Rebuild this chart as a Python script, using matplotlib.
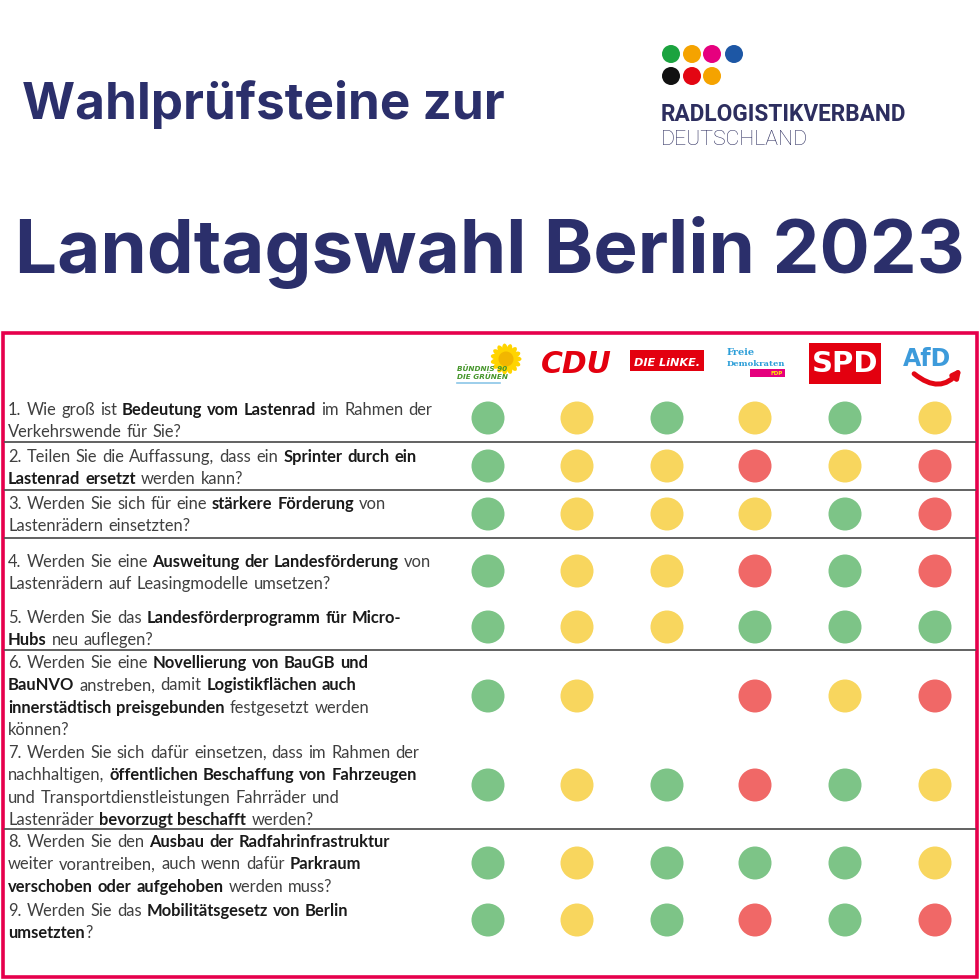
import numpy as np
import matplotlib.pyplot as plt
from matplotlib.patches import Circle, Rectangle, Ellipse, FancyArrowPatch

# Fragen (mit **fett** markierten Teilen)
questions = [
    ["1. Wie groß ist **Bedeutung vom Lastenrad** im Rahmen der",
     "Verkehrswende für Sie?"],
    ["2. Teilen Sie die Auffassung, dass ein **Sprinter durch ein**",
     "**Lastenrad ersetzt** werden kann?"],
    ["3. Werden Sie sich für eine **stärkere Förderung** von",
     "Lastenrädern einsetzten?"],
    ["4. Werden Sie eine **Ausweitung der Landesförderung** von",
     "Lastenrädern auf Leasingmodelle umsetzen?"],
    ["5. Werden Sie das **Landesförderprogramm für Micro-**",
     "**Hubs** neu auflegen?"],
    ["6. Werden Sie eine **Novellierung von BauGB und**",
     "**BauNVO** anstreben, damit **Logistikflächen auch**",
     "**innerstädtisch preisgebunden** festgesetzt werden",
     "können?"],
    ["7. Werden Sie sich dafür einsetzen, dass im Rahmen der",
     "nachhaltigen, **öffentlichen Beschaffung von Fahrzeugen**",
     "und Transportdienstleistungen Fahrräder und",
     "Lastenräder **bevorzugt beschafft** werden?"],
    ["8. Werden Sie den **Ausbau der Radfahrinfrastruktur**",
     "weiter vorantreiben, auch wenn dafür **Parkraum**",
     "**verschoben oder aufgehoben** werden muss?"],
    ["9. Werden Sie das **Mobilitätsgesetz von Berlin**",
     "**umsetzten**?"],
]

parties = ["GRÜNE", "CDU", "LINKE", "FDP", "SPD", "AfD"]

# G = ja (grün), Y = teilweise (gelb), R = nein (rot), - = keine Antwort
ratings = ["GYGYGY", "GYYRYR", "GYYYGR", "GYYRGR", "GYYGGG",
           "GY-RYR", "GYGRGY", "GYGGGY", "GYGRGR"]

colors = {"G": "#7DC487", "Y": "#F8D65E", "R": "#F06867"}

# layout (pixel)
col_x = [488, 577, 667, 755, 845, 935]
row_y = [418, 466, 514, 571, 627, 696, 785, 863, 920]
text_y = [410, 457, 504, 562, 618, 663, 753, 842, 911]
rule_y = [442, 490, 538, 650, 829]
line_h = 22.3

navy = "#2B2F6B"
crimson = "#E6004C"

fig = plt.figure(figsize=(9.8, 9.8), dpi=100)
ax = fig.add_axes([0, 0, 1, 1])
ax.set_xlim(0, 980)
ax.set_ylim(980, 0)
ax.axis("off")
r = fig.canvas.get_renderer()


def text_w(t):
    return t.get_window_extent(r).width


def fit_text(x, y, s, width, size, **kw):
    # Schriftgröße so setzen, dass der Text die Zielbreite hat
    t = ax.text(x, y, s, fontsize=size, **kw)
    t.set_fontsize(size * width / text_w(t))
    return t


# Titel
fit_text(22, 119, "Wahlprüfsteine zur", 482, 37, fontweight="bold",
         family="Inter", color=navy, va="baseline")
fit_text(15, 273, "Landtagswahl Berlin 2023", 950, 55, fontweight="bold",
         family="Inter", color=navy, va="baseline")

# Verbandslogo
logo_dots = [("#1BA33F", 671, 54), ("#F5A300", 692, 54), ("#E6007E", 712, 54),
             ("#1D57A5", 734, 54), ("#111111", 671, 76), ("#E30613", 692, 76),
             ("#F5A300", 712, 76)]
for c, x, y in logo_dots:
    ax.add_patch(Circle((x, y), 9, color=c, lw=0))
fit_text(661, 121, "RADLOGISTIKVERBAND", 246, 16, fontweight="bold",
         family="Roboto", color="#2D2E5F", va="baseline")
fit_text(661, 145, "DEUTSCHLAND", 147, 15, fontweight="light",
         family="Roboto", color="#2D2E5F", va="baseline")

# Rahmen
ax.add_patch(Rectangle((3, 333), 974, 644, fill=False, ec=crimson, lw=2.6))

# Parteilogos
# Grüne
for a in np.arange(0, 360, 24):
    ax.add_patch(Ellipse((506 + 10 * np.cos(np.radians(a)), 359 + 10 * np.sin(np.radians(a))),
                         11, 5.5, angle=a, color="#FFD400", lw=0))
ax.add_patch(Circle((506, 359), 7.5, color="#F2B600", lw=0))
ax.text(457, 371, "BÜNDNIS 90", fontsize=5.2, fontweight="bold", style="italic",
        color="#46962B", va="baseline")
ax.text(457, 379, "DIE GRÜNEN", fontsize=5.2, fontweight="bold", style="italic",
        color="#46962B", va="baseline")
ax.plot([457, 500], [383, 383], color="#8BC6E8", lw=1.2)
# CDU
fit_text(541, 373, "CDU", 71, 20, fontweight="heavy", style="italic",
         color="#E3000F", va="baseline")
# Linke
ax.add_patch(Rectangle((630, 350), 74, 21, color="#E3000F", lw=0))
fit_text(634, 366, "DIE LiNKE.", 66, 9, fontweight="heavy", style="italic",
         color="white", va="baseline")
# FDP
ax.text(727, 355, "Freie", fontsize=7, fontweight="bold", family="DejaVu Serif",
        color="#2C9ED8", va="baseline")
fit_text(727, 366, "Demokraten", 58, 7, fontweight="bold", family="DejaVu Serif",
         color="#2C9ED8", va="baseline")
ax.add_patch(Rectangle((750, 369), 35, 8, color="#E5007D", lw=0))
ax.text(783, 373.5, "FDP", fontsize=4, fontweight="bold", color="#FFED00",
        ha="right", va="center")
# SPD
ax.add_patch(Rectangle((809, 343), 72, 41, color="#E3000F", lw=0))
ax.text(845, 364, "SPD", fontsize=21, fontweight="heavy", color="white",
        ha="center", va="center")
# AfD
fit_text(903, 366, "AfD", 48, 16, fontweight="bold", color="#3D9BDB",
         va="baseline")
ax.add_patch(FancyArrowPatch((912, 372), (963, 366),
                             connectionstyle="arc3,rad=0.55", arrowstyle="-|>",
                             mutation_scale=11, color="#E30613", lw=3.6))

# Trennlinien
for y in rule_y:
    ax.plot([4, 976], [y, y], color="#555555", lw=1.3, solid_capstyle="butt")

# Fragen mit gemischtem Fett-Satz
fs = 11.9
fam = "Lato"


def space_w(weight):
    a = ax.text(0, 0, "n n", fontsize=fs, family=fam, fontweight=weight)
    b = ax.text(0, 0, "nn", fontsize=fs, family=fam, fontweight=weight)
    w = text_w(a) - text_w(b)
    a.remove()
    b.remove()
    return w


spaces = {"normal": space_w("normal"), "bold": space_w("bold")}


def draw_line(x, y, line):
    parts = line.split("**")
    for i, run in enumerate(parts):
        if not run:
            continue
        weight = "bold" if i % 2 else "normal"
        col = "#1A1A1A" if i % 2 else "#404040"
        words = run.split(" ")
        for j, w in enumerate(words):
            if j > 0:
                x += spaces[weight]
            if w:
                t = ax.text(x, y, w, fontsize=fs, family=fam, fontweight=weight,
                            color=col, va="baseline")
                x += text_w(t) + 0.8


for q, y0 in zip(questions, text_y):
    for k, line in enumerate(q):
        draw_line(8, y0 + 5 + k * line_h, line)

# Bewertungspunkte
for rating, y in zip(ratings, row_y):
    for ch, x in zip(rating, col_x):
        if ch in colors:
            ax.add_patch(Circle((x, y), 16.5, color=colors[ch], lw=0))

fig.savefig("out.png", dpi=100, facecolor="white")
